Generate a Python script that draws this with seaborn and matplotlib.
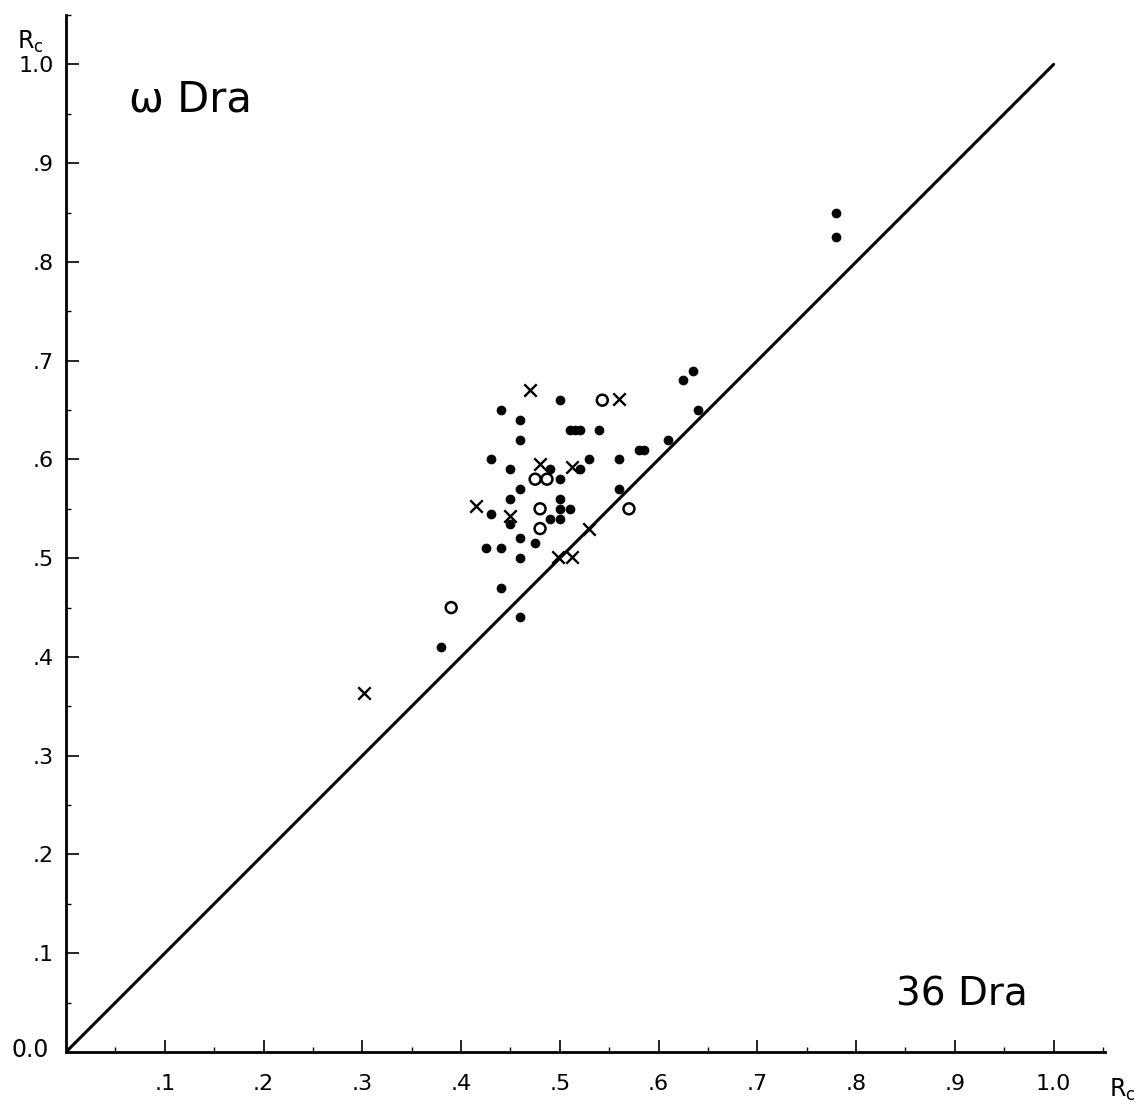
import matplotlib
matplotlib.use("Agg")
import matplotlib.pyplot as plt
import seaborn as sns
import pandas as pd
import numpy as np
from matplotlib.ticker import MultipleLocator

sns.set_theme(style="white")
plt.rcParams['font.family'] = ['DejaVu Sans']
plt.rcParams['text.color'] = 'black'

# Filled dots (x = 36 Dra Rc, y = omega Dra Rc)
dots_x = [0.50, 0.44, 0.46, 0.46, 0.43, 0.49, 0.45, 0.50, 0.46, 0.45, 0.50, 0.43,
          0.45, 0.49, 0.50, 0.46, 0.475, 0.425, 0.44, 0.46, 0.44, 0.46, 0.38,
          0.625, 0.635, 0.64, 0.51, 0.515, 0.52, 0.54, 0.61, 0.58, 0.585, 0.53,
          0.56, 0.52, 0.56, 0.50, 0.51, 0.78, 0.78]
dots_y = [0.66, 0.65, 0.64, 0.62, 0.60, 0.59, 0.59, 0.58, 0.57, 0.56, 0.56, 0.545,
          0.535, 0.54, 0.54, 0.52, 0.515, 0.51, 0.51, 0.50, 0.47, 0.44, 0.41,
          0.68, 0.69, 0.65, 0.63, 0.63, 0.63, 0.63, 0.62, 0.61, 0.61, 0.60,
          0.60, 0.59, 0.57, 0.55, 0.55, 0.85, 0.825]

# Open circles
circ_x = [0.475, 0.487, 0.48, 0.48, 0.39, 0.543, 0.57]
circ_y = [0.58, 0.58, 0.55, 0.53, 0.45, 0.66, 0.55]

# Crosses
cross_x = [0.47, 0.48, 0.415, 0.45, 0.512, 0.56, 0.53, 0.498, 0.512, 0.302]
cross_y = [0.67, 0.595, 0.553, 0.543, 0.592, 0.661, 0.53, 0.501, 0.501, 0.364]

# Equality line
line_x = [0.0, 1.0]
line_y = [0.0, 1.0]

tick_vals = [0.1, 0.2, 0.3, 0.4, 0.5, 0.6, 0.7, 0.8, 0.9, 1.0]
tick_labels = [".1", ".2", ".3", ".4", ".5", ".6", ".7", ".8", ".9", "1.0"]

W, H = 1136, 1107
fig = plt.figure(figsize=(W / 100, H / 100), dpi=100)
fig.patch.set_facecolor("white")
ax = fig.add_axes([66 / W, (H - 1052) / H, (1105 - 66) / W, (1052 - 15) / H])
ax.set_facecolor("white")

sns.lineplot(x=line_x, y=line_y, ax=ax, color="black", linewidth=2.2)
sns.scatterplot(x=dots_x, y=dots_y, ax=ax, marker="o", s=42, color="black",
                edgecolor="black", linewidth=0.5, zorder=3)
sns.scatterplot(x=circ_x, y=circ_y, ax=ax, marker="o", s=62, facecolor="none",
                edgecolor="black", linewidth=1.8, zorder=3)
sns.scatterplot(x=cross_x, y=cross_y, ax=ax, marker="x", s=80, color="black",
                linewidth=1.7, zorder=3)

ax.set_xlim(0, 1.052)
ax.set_ylim(0, 1.05)
ax.set_xticks(tick_vals)
ax.set_xticklabels(tick_labels)
ax.set_yticks(tick_vals)
ax.set_yticklabels(tick_labels)
ax.xaxis.set_minor_locator(MultipleLocator(0.05))
ax.yaxis.set_minor_locator(MultipleLocator(0.05))
ax.tick_params(axis="x", which="major", direction="in", length=9, width=1.2,
               pad=16, labelsize=16, colors="black", bottom=True)
ax.tick_params(axis="y", which="major", direction="in", length=9, width=1.2,
               pad=9, labelsize=16, colors="black", left=True)
ax.tick_params(which="minor", direction="in", length=3.5, width=1.0, colors="black")
ax.tick_params(axis="x", which="minor", bottom=True)
ax.tick_params(axis="y", which="minor", left=True)

for s in ["top", "right"]:
    ax.spines[s].set_visible(False)
for s in ["left", "bottom"]:
    ax.spines[s].set_color("black")
    ax.spines[s].set_linewidth(2.0)
ax.set_xlabel("")
ax.set_ylabel("")
ax.grid(False)

fig.text(30 / W, 1 - 1050 / H, "0.0", fontsize=17, ha="center", va="center", color="black")
fig.text(30 / W, 1 - 42 / H, r"R$_\mathrm{c}$", fontsize=17, ha="center", va="center", color="black")
fig.text(1122 / W, 1 - 1090 / H, r"R$_\mathrm{c}$", fontsize=17, ha="center", va="center", color="black")
fig.text(190 / W, 1 - 100 / H, "ω Dra", fontsize=30, ha="center", va="center", color="black")
fig.text(962 / W, 1 - 995 / H, "36 Dra", fontsize=28, ha="center", va="center", color="black")

fig.savefig("out.png", dpi=100, facecolor="white")
